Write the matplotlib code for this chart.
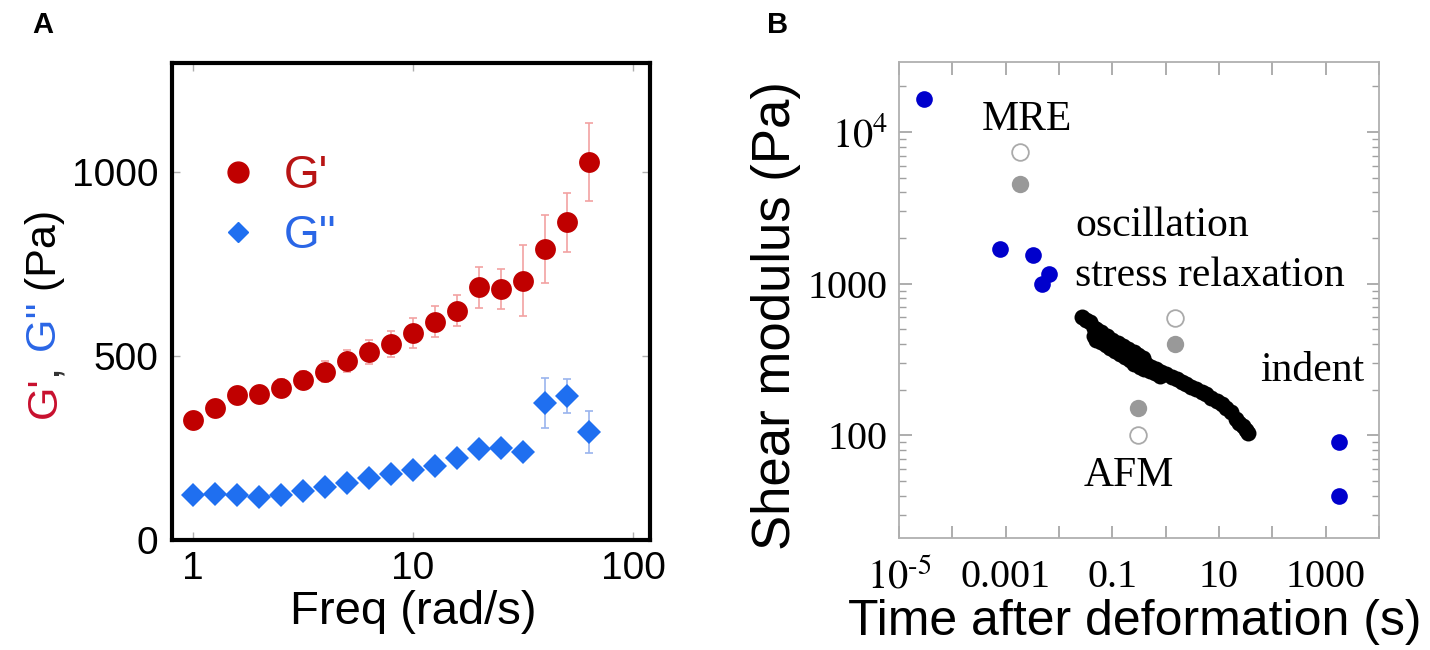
import matplotlib
matplotlib.use("Agg")
import matplotlib.pyplot as plt
from matplotlib.lines import Line2D
from matplotlib.ticker import FixedLocator, LogLocator, NullLocator, NullFormatter

plt.rcParams['font.family'] = ['Liberation Sans', 'DejaVu Sans']
plt.rcParams['mathtext.fontset'] = 'stix'

# ---------------- Panel A data ----------------
freq = [1.0, 1.26, 1.58, 2.0, 2.51, 3.16, 3.98, 5.01, 6.31, 7.94, 10.0,
        12.6, 15.8, 20.0, 25.1, 31.6, 39.8, 50.1, 63.1]
g_storage = [326, 358, 393, 396, 413, 434, 457, 485, 511, 533, 562,
             592, 623, 686, 682, 704, 790, 862, 1027]
g_storage_err = [20, 20, 22, 22, 25, 25, 28, 30, 32, 35, 40,
                 42, 43, 55, 54, 96, 92, 79, 106]
g_loss = [123, 125, 121, 117, 123, 132, 143, 155, 168, 179, 191,
          200, 222, 248, 250, 240, 373, 391, 293]
g_loss_err = [10, 10, 10, 10, 10, 10, 10, 10, 12, 12, 14,
              14, 15, 18, 18, 18, 68, 46, 56]
a_xticks = [1, 10, 100]
a_xticklabels = ['1', '10', '100']
a_yticks = [0, 500, 1000]
a_yticklabels = ['0', '500', '1000']

# ---------------- Panel B data ----------------
blue_t = [3.0e-5, 8.0e-4, 3.2e-3, 4.9e-3, 6.5e-3, 1800, 1800]
blue_G = [16500, 1690, 1550, 993, 1156, 90, 40]
gray_t = [1.85e-3, 1.51, 0.306]
gray_G = [4540, 400, 151]
open_t = [1.85e-3, 1.51, 0.306]
open_G = [7350, 598, 100]
relax_t = [0.0275, 0.032, 0.0377, 0.045, 0.054, 0.065, 0.0776, 0.095, 0.119,
           0.15, 0.184, 0.23, 0.283, 0.35, 0.436, 0.54, 0.672, 0.83, 1.03,
           1.3, 1.6, 2.0, 2.45, 3.0, 3.78, 4.7, 5.8, 7.2, 9.0, 11.2, 13.8,
           17.0, 20.6, 24.0, 28.0, 32.0, 35.5,
           0.045, 0.05, 0.06, 0.075, 0.09, 0.11, 0.14, 0.17, 0.21, 0.26, 0.33, 0.4,
           0.5, 0.62, 0.8,
           0.05, 0.06, 0.08, 0.1, 0.13, 0.16, 0.2, 0.25, 0.3, 0.38]
relax_G = [607, 580, 555, 510, 464, 445, 430, 408, 388,
           368, 351, 333, 318, 305, 294, 283, 273, 263, 253,
           243, 234, 225, 217, 209, 201, 193, 186, 177, 168, 160, 152,
           143, 128, 121, 115, 109, 104,
           450, 425, 412, 392, 376, 360, 343, 328, 312, 297, 284, 275,
           264, 256, 247,
           500, 478, 452, 428, 408, 390, 372, 354, 340, 322]
b_xticks = [1e-5, 1e-4, 1e-3, 1e-2, 1e-1, 1, 10, 100, 1000, 1e4]
b_xticklabels = [r'$10^{\text{-}5}$', '', '0.001', '', '0.1', '', '10', '', '1000', '']
b_yticks = [100, 1000, 1e4]
b_yticklabels = ['100', '1000', '$10^{4}$']
annotations = [("MRE", 3.6e-4, 10400), ("oscillation", 0.0199, 2060),
               ("stress relaxation", 0.0199, 962), ("indent", 59, 227),
               ("AFM", 0.0295, 46)]

W, H = 1430, 650
fig = plt.figure(figsize=(W / 100, H / 100), dpi=100)

def ax_rect(l, t, r, b):
    return [l / W, 1 - b / H, (r - l) / W, (b - t) / H]

# ================= Panel A =================
axA = fig.add_axes(ax_rect(172, 63, 650, 540))
red = '#c00000'
blue = '#1f6ff0'
axA.errorbar(freq, g_storage, yerr=g_storage_err, fmt='none', ecolor='#f2a2a2',
             elinewidth=1.2, capsize=3, capthick=1.2, zorder=2)
axA.errorbar(freq, g_loss, yerr=g_loss_err, fmt='none', ecolor='#9ab4ee',
             elinewidth=1.2, capsize=3, capthick=1.2, zorder=2)
axA.plot(freq, g_storage, 'o', color=red, markersize=15, markeredgewidth=0, zorder=3)
axA.plot(freq, g_loss, 'D', color=blue, markersize=12, markeredgewidth=0, zorder=3)
axA.set_xscale('log')
axA.set_xlim(0.802, 119.5)
axA.set_ylim(6, 1295)
axA.xaxis.set_major_locator(FixedLocator(a_xticks))
axA.xaxis.set_minor_locator(NullLocator())
axA.set_xticklabels(a_xticklabels)
axA.set_yticks(a_yticks)
axA.set_yticklabels(a_yticklabels)
axA.tick_params(which='both', direction='in', top=True, right=True, length=6,
                width=1, color='#b0b0b0', labelsize=28)
axA.tick_params(axis='x', pad=8)
axA.tick_params(axis='y', pad=10)
for sp in axA.spines.values():
    sp.set_linewidth(3)
    sp.set_color('black')

handles = [Line2D([], [], marker='o', color=red, linestyle='none', markersize=15),
           Line2D([], [], marker='D', color=blue, linestyle='none', markersize=10)]
leg = axA.legend(handles, ["G'", "G''"], loc='center left',
                 bbox_to_anchor=(0.10, 0.70), frameon=False, fontsize=33,
                 handlelength=0.8, handletextpad=0.6, labelspacing=0.35,
                 borderaxespad=0, borderpad=0)
leg.get_texts()[0].set_color('#b81414')
leg.get_texts()[1].set_color('#2a66e6')

fig.text(413 / W, 1 - 612 / H, 'Freq (rad/s)', fontsize=34, ha='center', va='center')

# ================= Panel B =================
axB = fig.add_axes(ax_rect(899, 62, 1379, 538))
axB.set_xscale('log')
axB.set_yscale('log')
axB.set_xlim(1e-5, 1e4)
axB.set_ylim(21, 29000)
axB.plot(relax_t, relax_G, 'o', color='black', markersize=11.5, markeredgewidth=0, zorder=3)
axB.plot(blue_t, blue_G, 'o', color='#0000cc', markersize=12, markeredgewidth=0, zorder=4)
axB.plot(gray_t, gray_G, 'o', color='#999999', markersize=12.5, markeredgewidth=0, zorder=4)
axB.plot(open_t, open_G, 'o', markerfacecolor='white', markeredgecolor='#aaaaaa',
         markersize=12, markeredgewidth=1.3, zorder=4)
axB.xaxis.set_major_locator(FixedLocator(b_xticks))
axB.xaxis.set_minor_locator(NullLocator())
axB.set_xticklabels(b_xticklabels)
axB.yaxis.set_major_locator(FixedLocator(b_yticks))
axB.yaxis.set_minor_locator(LogLocator(base=10, subs=[2, 3, 4, 5, 6, 7, 8, 9]))
axB.yaxis.set_minor_formatter(NullFormatter())
axB.set_yticklabels(b_yticklabels)
for lab in axB.get_xticklabels() + axB.get_yticklabels():
    lab.set_fontfamily(['Liberation Serif', 'DejaVu Serif'])
axB.tick_params(which='major', direction='in', top=True, right=True, length=9,
                width=1.2, color='#a0a0a0', labelsize=29)
axB.tick_params(which='minor', direction='in', top=True, right=True, length=5,
                width=1, color='#a0a0a0')
axB.tick_params(axis='x', pad=15)
axB.tick_params(axis='y', pad=8)
for sp in axB.spines.values():
    sp.set_linewidth(1.3)
    sp.set_color('#b0b0b0')

for txt, tx, ty in annotations:
    axB.text(tx, ty, txt, fontsize=30, family=['Liberation Serif', 'DejaVu Serif'],
             ha='left', va='baseline', zorder=5)

fig.text(1135 / W, 1 - 622 / H, 'Time after deformation (s)', fontsize=36,
         ha='center', va='center')
fig.text(776 / W, 1 - 316 / H, 'Shear modulus (Pa)', fontsize=38, rotation=90,
         ha='center', va='center')

# panel letters
fig.text(43 / W, 1 - 25 / H, 'A', fontsize=21, fontweight='bold', ha='center', va='center')
fig.text(778 / W, 1 - 25 / H, 'B', fontsize=21, fontweight='bold', ha='center', va='center')

# multicolour rotated y label for panel A
fig.canvas.draw()
renderer = fig.canvas.get_renderer()
parts = [("G'", '#c8102e'), (",", '#333333'), (" G''", '#2a66e6'), (" (Pa)", 'black')]
ypix = H - 418
for s, c in parts:
    t = fig.text(45 / W, ypix / H, s, color=c, rotation=90, fontsize=31,
                 ha='center', va='bottom', rotation_mode='default')
    bb = t.get_window_extent(renderer)
    ypix = bb.y1

fig.savefig('out.png', dpi=100)
